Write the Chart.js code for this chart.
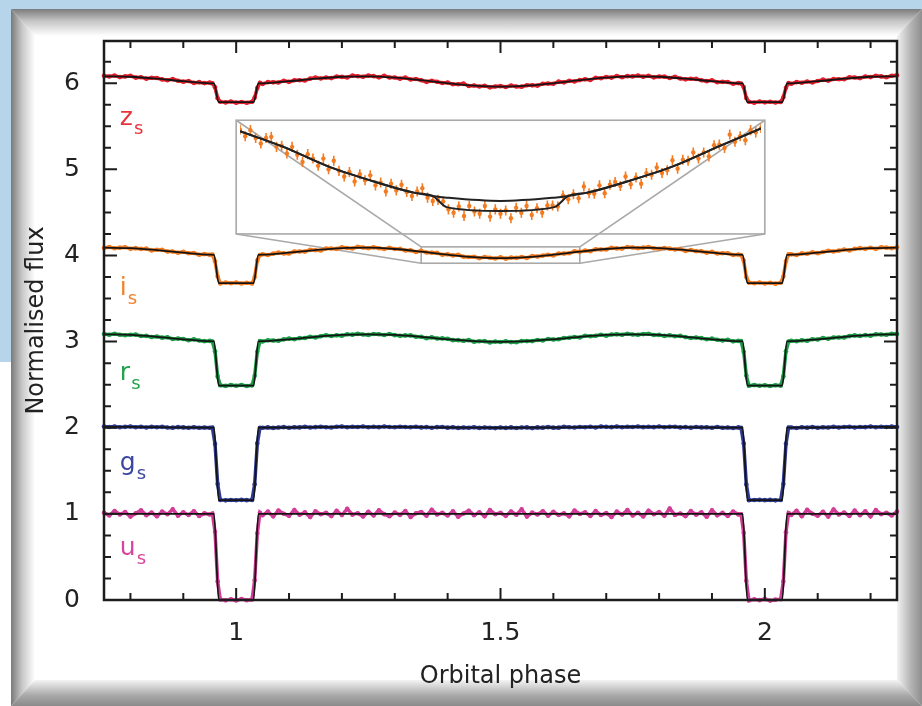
<!DOCTYPE html>
<html>
<head>
<meta charset="utf-8">
<script src="https://cdn.jsdelivr.net/npm/chart.js@4.4.1/dist/chart.umd.min.js"></script>
<style>
  html, body { margin: 0; padding: 0; }
  body { width: 922px; height: 706px; position: relative; overflow: hidden; background: #fff; }
  .abs { position: absolute; }
  #bgTop { left: 0; top: 0; width: 922px; height: 9px; background: #b7d5ea; }
  #bgLeft { left: 0; top: 0; width: 11px; height: 362px; background: #b7d5ea; }
  #frame { left: 11px; top: 9px; width: 911px; height: 697px; background: #fff; }
  #bvTop { left: 0; top: 0; width: 100%; height: 27px;
    background: linear-gradient(to bottom, #7c7c7c, #c6c6c6 45%, #fff);
    clip-path: polygon(0 0, 100% 0, calc(100% - 25px) 100%, 24px 100%); }
  #bvLeft { left: 0; top: 0; width: 24px; height: 100%;
    background: linear-gradient(to right, #7a7a7a, #c6c6c6 45%, #fff);
    clip-path: polygon(0 0, 100% 27px, 100% calc(100% - 26px), 0 100%); }
  #bvRight { right: 0; top: 0; width: 25px; height: 100%;
    background: linear-gradient(to right, #f2f2f2, #b4b4b4 55%, #8e8e8e);
    clip-path: polygon(0 27px, 100% 0, 100% 100%, 0 calc(100% - 26px)); }
  #bvBottom { left: 0; bottom: 0; width: 100%; height: 26px;
    background: linear-gradient(to bottom, #f4f4f4, #a8a8a8 60%, #8a8a8a);
    clip-path: polygon(24px 0, calc(100% - 25px) 0, 100% 100%, 0 100%); }
  #main { left: 0; top: 0; }
</style>
</head>
<body>
<div id="bgTop" class="abs"></div>
<div id="bgLeft" class="abs"></div>
<div id="frame" class="abs">
  <div id="bvTop" class="abs"></div>
  <div id="bvLeft" class="abs"></div>
  <div id="bvRight" class="abs"></div>
  <div id="bvBottom" class="abs"></div>
</div>
<canvas id="main" class="abs" width="922" height="706"></canvas>
<canvas id="inset" class="abs"></canvas>
<script>
'use strict'

// orbital phase of every observed point (same grid for all five bands)
const phase = [
    0.75, 0.76, 0.77, 0.78, 0.79, 0.80, 0.81, 0.82, 0.83, 0.84, 0.85, 0.86, 0.87, 0.88, 0.89, 0.90, 0.91, 0.92, 0.93, 0.94, 0.95,
    0.955, 0.96, 0.965,
    0.97, 0.98, 0.99, 1.00, 1.01, 1.02, 1.03,
    1.035, 1.04, 1.045,
    1.05, 1.06, 1.07, 1.08, 1.09, 1.10, 1.11, 1.12, 1.13, 1.14, 1.15, 1.16, 1.17, 1.18, 1.19, 1.20,
    1.21, 1.22, 1.23, 1.24, 1.25, 1.26, 1.27, 1.28, 1.29, 1.30, 1.31, 1.32, 1.33, 1.34, 1.35, 1.36, 1.37, 1.38, 1.39, 1.40,
    1.41, 1.42, 1.43, 1.44, 1.45, 1.46, 1.47, 1.48, 1.49, 1.50, 1.51, 1.52, 1.53, 1.54, 1.55, 1.56, 1.57, 1.58, 1.59, 1.60,
    1.61, 1.62, 1.63, 1.64, 1.65, 1.66, 1.67, 1.68, 1.69, 1.70, 1.71, 1.72, 1.73, 1.74, 1.75, 1.76, 1.77, 1.78, 1.79, 1.80,
    1.81, 1.82, 1.83, 1.84, 1.85, 1.86, 1.87, 1.88, 1.89, 1.90, 1.91, 1.92, 1.93, 1.94, 1.95,
    1.955, 1.96, 1.965,
    1.97, 1.98, 1.99, 2.00, 2.01, 2.02, 2.03,
    2.035, 2.04, 2.045,
    2.05, 2.06, 2.07, 2.08, 2.09, 2.10, 2.11, 2.12, 2.13, 2.14, 2.15, 2.16, 2.17, 2.18, 2.19, 2.20, 2.21, 2.22, 2.23, 2.24, 2.25
];

const zFlux = [
    6.086, 6.077, 6.089, 6.071, 6.079, 6.086, 6.065, 6.070, 6.053, 6.063, 6.061, 6.044, 6.034, 6.047, 6.029, 6.018, 6.025, 6.004, 6.012, 6.001, 6.009,
    5.998, 5.953, 5.826,
    5.785, 5.777, 5.788, 5.774, 5.782, 5.773, 5.784,
    5.833, 5.945, 6.004,
    5.991, 6.012, 6.010, 6.009, 6.029, 6.016, 6.034, 6.034, 6.031, 6.053, 6.066, 6.055, 6.067, 6.059, 6.078, 6.073,
    6.066, 6.088, 6.081, 6.075, 6.088, 6.082, 6.068, 6.086, 6.066, 6.067, 6.053, 6.065, 6.043, 6.048, 6.034, 6.016, 6.029, 6.017, 6.003, 6.008,
    5.987, 5.987, 5.995, 5.967, 5.974, 5.962, 5.971, 5.952, 5.962, 5.966, 5.956, 5.973, 5.962, 5.960, 5.976, 5.975, 5.972, 5.994, 5.996, 5.993,
    6.018, 6.010, 6.028, 6.020, 6.036, 6.046, 6.037, 6.064, 6.058, 6.071, 6.065, 6.084, 6.070, 6.082, 6.079, 6.089, 6.076, 6.086, 6.068, 6.077,
    6.076, 6.061, 6.073, 6.055, 6.045, 6.051, 6.050, 6.034, 6.024, 6.034, 6.011, 6.016, 6.014, 5.993, 6.001,
    5.996, 5.955, 5.827,
    5.784, 5.774, 5.787, 5.778, 5.785, 5.776, 5.783,
    5.836, 5.948, 6.002,
    5.993, 6.013, 6.005, 6.020, 6.009, 6.025, 6.041, 6.030, 6.049, 6.046, 6.046, 6.069, 6.066, 6.059, 6.077, 6.071, 6.086, 6.079, 6.070, 6.086, 6.093
];

const iFlux = [
    4.087, 4.098, 4.084, 4.091, 4.096, 4.077, 4.085, 4.076, 4.079, 4.058, 4.066, 4.065, 4.046, 4.046, 4.032, 4.043, 4.026, 4.028, 4.009, 4.016, 4.009,
    4.010, 3.933, 3.756,
    3.676, 3.686, 3.678, 3.687, 3.675, 3.683, 3.674,
    3.749, 3.941, 4.006,
    4.014, 4.006, 4.021, 4.033, 4.024, 4.024, 4.045, 4.046, 4.045, 4.065, 4.061, 4.058, 4.080, 4.081, 4.076, 4.094,
    4.086, 4.081, 4.101, 4.093, 4.084, 4.094, 4.084, 4.075, 4.088, 4.075, 4.076, 4.058, 4.061, 4.041, 4.054, 4.034, 4.033, 4.030, 4.008, 4.014,
    4.001, 4.008, 3.985, 3.982, 3.985, 3.968, 3.982, 3.973, 3.965, 3.980, 3.963, 3.975, 3.972, 3.983, 3.971, 3.994, 3.987, 3.998, 4.008, 4.001,
    4.023, 4.022, 4.025, 4.049, 4.042, 4.056, 4.049, 4.071, 4.070, 4.070, 4.088, 4.082, 4.080, 4.099, 4.093, 4.085, 4.091, 4.098, 4.083, 4.077,
    4.086, 4.079, 4.070, 4.075, 4.053, 4.063, 4.050, 4.049, 4.033, 4.042, 4.023, 4.025, 4.026, 4.006, 4.012,
    4.005, 3.940, 3.750,
    3.685, 3.677, 3.686, 3.675, 3.682, 3.673, 3.684,
    3.755, 3.932, 4.013,
    4.013, 4.005, 4.024, 4.020, 4.037, 4.027, 4.041, 4.055, 4.046, 4.056, 4.070, 4.059, 4.076, 4.085, 4.077, 4.090, 4.077, 4.095, 4.091, 4.084, 4.094
];

const rFlux = [
    3.089, 3.080, 3.091, 3.080, 3.074, 3.080, 3.081, 3.065, 3.066, 3.053, 3.060, 3.046, 3.050, 3.030, 3.035, 3.031, 3.016, 3.026, 3.012, 3.005, 3.008,
    3.001, 2.888, 2.596,
    2.493, 2.486, 2.495, 2.488, 2.496, 2.485, 2.492,
    2.604, 2.882, 3.005,
    3.002, 3.015, 3.012, 3.010, 3.026, 3.035, 3.028, 3.040, 3.042, 3.056, 3.049, 3.063, 3.074, 3.065, 3.073, 3.069,
    3.085, 3.081, 3.090, 3.082, 3.078, 3.089, 3.086, 3.077, 3.088, 3.075, 3.067, 3.072, 3.072, 3.056, 3.056, 3.040, 3.049, 3.036, 3.037, 3.033,
    3.017, 3.017, 3.010, 3.017, 2.999, 3.004, 3.005, 2.991, 3.000, 2.996, 3.004, 2.994, 2.992, 3.006, 3.006, 3.006, 3.019, 3.012, 3.031, 3.025,
    3.027, 3.041, 3.044, 3.054, 3.048, 3.068, 3.062, 3.068, 3.079, 3.069, 3.082, 3.086, 3.079, 3.092, 3.083, 3.079, 3.087, 3.091, 3.076, 3.078,
    3.066, 3.074, 3.063, 3.066, 3.052, 3.041, 3.048, 3.040, 3.028, 3.034, 3.021, 3.013, 3.021, 3.003, 3.008,
    3.006, 2.883, 2.605,
    2.487, 2.495, 2.488, 2.494, 2.484, 2.493, 2.489,
    2.597, 2.889, 3.001,
    3.010, 3.005, 3.015, 3.010, 3.028, 3.025, 3.041, 3.033, 3.047, 3.048, 3.049, 3.064, 3.072, 3.066, 3.075, 3.069, 3.085, 3.083, 3.080, 3.091, 3.088
];

const gFlux = [
    2.013, 2.008, 2.014, 2.006, 2.010, 2.014, 2.006, 2.010, 2.003, 2.010, 2.006, 2.010, 2.003, 2.001, 2.007, 2.004, 2.000, 2.006, 2.000, 2.003, 2.000,
    2.002, 1.812, 1.347,
    1.162, 1.157, 1.161, 1.158, 1.163, 1.159, 1.162,
    1.343, 1.818, 2.000,
    1.999, 2.004, 1.998, 2.003, 2.007, 2.000, 2.006, 2.004, 2.010, 2.002, 2.007, 2.010, 2.006, 2.003, 2.011, 2.013,
    2.006, 2.011, 2.009, 2.015, 2.006, 2.012, 2.007, 2.014, 2.008, 2.005, 2.012, 2.008, 2.006, 2.012, 2.004, 2.007, 2.000, 2.007, 2.008, 2.001,
    2.006, 1.998, 2.003, 2.000, 2.006, 1.998, 2.002, 2.000, 1.996, 2.003, 1.998, 2.004, 1.997, 2.002, 2.004, 1.996, 2.004, 2.001, 2.007, 2.001,
    2.001, 2.010, 2.005, 2.002, 2.009, 2.006, 2.011, 2.003, 2.013, 2.010, 2.007, 2.013, 2.006, 2.012, 2.009, 2.014, 2.007, 2.011, 2.007, 2.014,
    2.005, 2.010, 2.011, 2.004, 2.007, 2.001, 2.009, 2.004, 2.006, 2.000, 2.008, 2.000, 2.003, 1.997, 2.004,
    2.000, 1.817, 1.342,
    1.158, 1.161, 1.163, 1.159, 1.162, 1.157, 1.161,
    1.347, 1.813, 2.002,
    2.003, 1.997, 2.005, 2.001, 2.007, 2.000, 2.005, 2.003, 2.010, 2.002, 2.009, 2.010, 2.003, 2.009, 2.007, 2.013, 2.006, 2.012, 2.009, 2.013, 2.008
];

const uFlux = [
    1.012, 0.981, 1.034, 0.993, 1.021, 0.968, 1.008, 1.041, 0.985, 1.015, 0.972, 1.027, 0.996, 1.052, 0.979, 1.018, 0.987, 1.031, 0.975, 1.006, 0.992,
    1.004, 0.792, 0.215,
    0.006, -0.004, 0.009, -0.006, 0.011, -0.003, 0.005,
    0.228, 0.775, 1.013,
    0.984, 1.026, 0.971, 1.038, 1.002, 0.977, 1.045, 0.989, 1.017, 0.963, 1.029, 0.995, 1.011, 0.974, 1.036, 0.986,
    1.058, 0.991, 1.008, 0.969, 1.024, 0.982, 1.041, 0.997, 0.973, 1.016, 0.988, 1.033, 0.965, 1.007, 1.022, 0.978, 1.047, 0.993, 1.012, 0.981,
    1.029, 0.966, 1.004, 1.037, 0.985, 1.019, 0.972, 1.043, 0.996, 1.011, 0.977, 1.028, 0.989, 1.052, 0.968, 1.014, 0.993, 1.031, 0.979, 1.023,
    0.987, 1.006, 0.971, 1.039, 0.998, 1.017, 0.975, 1.034, 0.986, 1.009, 0.964, 1.026, 0.992, 1.044, 0.981, 1.013, 0.969, 1.037, 0.995, 1.021,
    0.978, 1.062, 0.988, 1.005, 0.974, 1.032, 0.991, 1.018, 0.966, 1.041, 0.983, 1.011, 0.976, 1.027, 0.994,
    0.996, 0.781, 0.223,
    -0.005, 0.008, -0.002, 0.010, -0.007, 0.004, 0.009,
    0.214, 0.788, 1.009,
    0.987, 1.035, 0.973, 1.046, 1.001, 0.979, 1.024, 0.968, 1.051, 0.992, 1.016, 0.975, 1.038, 0.984, 1.029, 0.971, 1.043, 0.997, 1.012, 0.982, 1.026
];

// model light curves (black lines)
const modelPhase = [0.75, 0.8, 0.85, 0.9, 0.95, 0.958, 0.967, 1.0, 1.033, 1.042, 1.05, 1.1, 1.15, 1.2, 1.25, 1.3, 1.35, 1.4, 1.45, 1.5,
    1.55, 1.6, 1.65, 1.7, 1.75, 1.8, 1.85, 1.9, 1.95, 1.958, 1.967, 2.0, 2.033, 2.042, 2.05, 2.1, 2.15, 2.2, 2.25];
const zModel = [6.080, 6.075, 6.053, 6.023, 5.999, 5.997, 5.78, 5.78, 5.78, 5.997, 5.999, 6.023, 6.053, 6.075, 6.080, 6.065, 6.035, 5.999, 5.971, 5.960,
    5.971, 5.999, 6.035, 6.065, 6.080, 6.075, 6.053, 6.023, 5.999, 5.997, 5.78, 5.78, 5.78, 5.997, 5.999, 6.023, 6.053, 6.075, 6.080];
const iModel = [4.090, 4.085, 4.063, 4.033, 4.009, 4.007, 3.68, 3.68, 3.68, 4.007, 4.009, 4.033, 4.063, 4.085, 4.090, 4.075, 4.045, 4.009, 3.981, 3.970,
    3.981, 4.009, 4.045, 4.075, 4.090, 4.085, 4.063, 4.033, 4.009, 4.007, 3.68, 3.68, 3.68, 4.007, 4.009, 4.033, 4.063, 4.085, 4.090];
const rModel = [3.085, 3.077, 3.055, 3.027, 3.005, 3.003, 2.49, 2.49, 2.49, 3.003, 3.005, 3.027, 3.055, 3.077, 3.085, 3.077, 3.055, 3.027, 3.005, 2.997,
    3.005, 3.027, 3.055, 3.077, 3.085, 3.077, 3.055, 3.027, 3.005, 3.003, 2.49, 2.49, 2.49, 3.003, 3.005, 3.027, 3.055, 3.077, 3.085];
const gModel = [2.010, 2.009, 2.007, 2.003, 2.001, 2.001, 1.16, 1.16, 1.16, 2.001, 2.001, 2.003, 2.007, 2.009, 2.010, 2.009, 2.007, 2.003, 2.001, 2.000,
    2.001, 2.003, 2.007, 2.009, 2.010, 2.009, 2.007, 2.003, 2.001, 2.001, 1.16, 1.16, 1.16, 2.001, 2.001, 2.003, 2.007, 2.009, 2.010];
const uModel = [1, 1, 1, 1, 1, 1, 0, 0, 0, 1, 1, 1, 1, 1, 1, 1, 1, 1, 1, 1,
    1, 1, 1, 1, 1, 1, 1, 1, 1, 1, 0, 0, 0, 1, 1, 1, 1, 1, 1];

// zoomed i-band around phase 1.5 (inset)
const insetPhase = [
    1.350, 1.353, 1.356, 1.359, 1.362, 1.365, 1.368, 1.371, 1.374, 1.377,
    1.380, 1.383, 1.386, 1.389, 1.392, 1.395, 1.398, 1.401, 1.404, 1.407,
    1.410, 1.413, 1.416, 1.419, 1.422, 1.425, 1.428, 1.431, 1.434, 1.437,
    1.440, 1.443, 1.446, 1.449, 1.452, 1.455, 1.458, 1.461, 1.464, 1.467,
    1.470, 1.473, 1.476, 1.479, 1.482, 1.485, 1.488, 1.491, 1.494, 1.497,
    1.500, 1.503, 1.506, 1.509, 1.512, 1.515, 1.518, 1.521, 1.524, 1.527,
    1.530, 1.533, 1.536, 1.539, 1.542, 1.545, 1.548, 1.551, 1.554, 1.557,
    1.560, 1.563, 1.566, 1.569, 1.572, 1.575, 1.578, 1.581, 1.584, 1.587,
    1.590, 1.593, 1.596, 1.599, 1.602, 1.605, 1.608, 1.611, 1.614, 1.617,
    1.620, 1.623, 1.626, 1.629, 1.632, 1.635, 1.638, 1.641, 1.644, 1.647,
    1.650
];
const insetFlux = [
    4.090, 4.078, 4.089, 4.075, 4.065, 4.075, 4.077, 4.059, 4.061, 4.047,
    4.059, 4.045, 4.032, 4.046, 4.038, 4.025, 4.038, 4.019, 4.034, 4.016,
    4.006, 4.014, 3.997, 4.010, 3.999, 4.008, 3.990, 3.995, 3.979, 3.993,
    3.981, 3.991, 3.978, 3.971, 3.979, 3.985, 3.968, 3.962, 3.964, 3.961,
    3.947, 3.941, 3.952, 3.935, 3.953, 3.943, 3.939, 3.953, 3.934, 3.947,
    3.939, 3.945, 3.931, 3.950, 3.941, 3.953, 3.937, 3.949, 3.941, 3.954,
    3.954, 3.952, 3.972, 3.965, 3.974, 3.967, 3.988, 3.976, 3.975, 3.990,
    3.976, 3.991, 3.996, 3.989, 4.006, 3.992, 4.004, 3.993, 4.012, 4.009,
    4.022, 4.012, 4.017, 4.035, 4.020, 4.036, 4.034, 4.049, 4.038, 4.049,
    4.042, 4.062, 4.063, 4.057, 4.081, 4.068, 4.078, 4.071, 4.089, 4.085,
    4.093
];
const insetErr = 0.009;
const insetModelPhase = [1.35, 1.375, 1.4, 1.425, 1.45, 1.461, 1.469, 1.5, 1.531, 1.539, 1.55, 1.575, 1.6, 1.625, 1.65];
const insetModelNoEclipse = [4.087, 4.059, 4.025, 3.999, 3.977, 3.971, 3.968, 3.962, 3.968, 3.971, 3.977, 3.999, 4.025, 4.059, 4.092];
const insetModelEclipse = [4.087, 4.059, 4.025, 3.999, 3.977, 3.971, 3.951, 3.944, 3.951, 3.971, 3.977, 3.999, 4.025, 4.059, 4.092];

const xTicks = [1, 1.5, 2];
const xTickLabels = ['1', '1.5', '2'];
const yTicks = [0, 1, 2, 3, 4, 5, 6];
const yTickLabels = ['0', '1', '2', '3', '4', '5', '6'];
const bandNames = ['z', 'i', 'r', 'g', 'u'];

// layout (data units of the main axes), kept apart from the values
const labelX = 0.78;
const labelY = [5.52, 3.54, 2.55, 1.51, 0.52];
const insetBox = { x0: 1.0, x1: 2.0, y0: 4.25, y1: 5.57 };
const zoomBox = { x0: 1.35, x1: 1.65, y0: 3.91, y1: 4.10 };

const bandColours = ['#e41e2b', '#f47b20', '#1b9e48', '#2e3a92', '#d23c96'];
const labelColours = ['#e8323c', '#f5812a', '#22a24c', '#3a46a0', '#d8449c'];
const fluxes = [zFlux, iFlux, rFlux, gFlux, uFlux];
const models = [zModel, iModel, rModel, gModel, uModel];
const FONT = "'DejaVu Sans', sans-serif";

Chart.defaults.font.family = FONT;
Chart.defaults.color = '#222';

function points(xs, ys) {
    return xs.map((x, i) => ({ x: x, y: ys[i] }));
}

const datasets = [];
fluxes.forEach((flux, b) => {
    datasets.push({
        label: bandNames[b] + ' model',
        data: points(modelPhase, models[b]),
        borderColor: '#141414',
        borderWidth: 1.8,
        pointRadius: 0,
        cubicInterpolationMode: 'monotone',
        order: 0
    });
    datasets.push({
        label: bandNames[b],
        data: points(phase, flux),
        borderColor: bandColours[b],
        backgroundColor: bandColours[b],
        borderWidth: 3.5,
        pointRadius: 2.3,
        pointBorderWidth: 0,
        clip: 5,
        order: 1
    });
});

const frameTicks = {
    id: 'frameTicks',
    beforeDatasetsDraw(chart) {
        const { ctx, scales: { x, y } } = chart;
        const bx0 = x.getPixelForValue(insetBox.x0), bx1 = x.getPixelForValue(insetBox.x1);
        const by0 = y.getPixelForValue(insetBox.y1), by1 = y.getPixelForValue(insetBox.y0);
        const zx0 = x.getPixelForValue(zoomBox.x0), zx1 = x.getPixelForValue(zoomBox.x1);
        const zy0 = y.getPixelForValue(zoomBox.y1), zy1 = y.getPixelForValue(zoomBox.y0);
        ctx.save();
        ctx.strokeStyle = '#a9a9a9';
        ctx.lineWidth = 1.6;
        ctx.strokeRect(bx0, by0, bx1 - bx0, by1 - by0);
        ctx.strokeRect(zx0, zy0, zx1 - zx0, zy1 - zy0);
        ctx.beginPath();
        ctx.moveTo(bx0, by0); ctx.lineTo(zx0, zy0);
        ctx.moveTo(bx0, by1); ctx.lineTo(zx0, zy1);
        ctx.moveTo(bx1, by0); ctx.lineTo(zx1, zy0);
        ctx.moveTo(bx1, by1); ctx.lineTo(zx1, zy1);
        ctx.stroke();
        ctx.restore();
    },
    afterDatasetsDraw(chart) {
        const { ctx, chartArea: a, scales: { x, y } } = chart;
        ctx.save();
        ctx.strokeStyle = '#1c1c1c';
        ctx.lineWidth = 2;
        ctx.beginPath();
        for (let k = 8; k <= 22; k++) {
            const v = k / 10;
            const len = xTicks.some(t => Math.abs(t - v) < 1e-6) ? 12 : 7;
            const px = x.getPixelForValue(v);
            ctx.moveTo(px, a.bottom); ctx.lineTo(px, a.bottom - len);
            ctx.moveTo(px, a.top); ctx.lineTo(px, a.top + len);
        }
        for (let k = 1; k <= 25; k++) {
            const v = k / 4;
            const len = yTicks.includes(v) ? 13 : 7;
            const py = y.getPixelForValue(v);
            ctx.moveTo(a.left, py); ctx.lineTo(a.left + len, py);
            ctx.moveTo(a.right, py); ctx.lineTo(a.right - len, py);
        }
        ctx.stroke();
        ctx.lineWidth = 2.5;
        ctx.strokeRect(a.left, a.top, a.right - a.left, a.bottom - a.top);

        ctx.textAlign = 'left';
        ctx.textBaseline = 'alphabetic';
        bandNames.forEach((n, b) => {
            const px = x.getPixelForValue(labelX);
            const py = y.getPixelForValue(labelY[b]);
            ctx.fillStyle = labelColours[b];
            ctx.font = '25px ' + FONT;
            ctx.fillText(n, px, py);
            const w = ctx.measureText(n).width;
            ctx.font = '18px ' + FONT;
            ctx.fillText('s', px + w + 1, py + 9);
        });
        ctx.restore();
    }
};

const mainChart = new Chart(document.getElementById('main'), {
    type: 'line',
    data: { datasets: datasets },
    options: {
        responsive: false,
        animation: false,
        layout: { padding: { left: 0, top: 41, right: 25, bottom: 0 } },
        plugins: { legend: { display: false }, tooltip: { enabled: false } },
        scales: {
            x: {
                type: 'linear',
                min: 0.75,
                max: 2.25,
                grid: { display: false },
                border: { display: false },
                afterBuildTicks: s => { s.ticks = xTicks.map(v => ({ value: v })); },
                afterFit: s => { s.height = 106; },
                ticks: {
                    padding: 10,
                    maxRotation: 0,
                    font: { size: 25 },
                    color: '#222',
                    callback: (v, i) => xTickLabels[i]
                },
                title: {
                    display: true,
                    text: 'Orbital phase',
                    font: { size: 24 },
                    color: '#222',
                    padding: { top: 0, bottom: 15 }
                }
            },
            y: {
                type: 'linear',
                min: 0,
                max: 6.49,
                grid: { display: false },
                border: { display: false },
                afterBuildTicks: s => { s.ticks = yTicks.map(v => ({ value: v })); },
                afterFit: s => { s.width = 104; },
                ticks: {
                    padding: 16,
                    font: { size: 25 },
                    color: '#222',
                    callback: (v, i) => yTickLabels[i]
                },
                title: {
                    display: true,
                    text: 'Normalised flux',
                    font: { size: 24 },
                    color: '#222',
                    padding: { top: 22, bottom: 0 }
                }
            }
        }
    },
    plugins: [frameTicks]
});

// inset: its own small chart laid over the box drawn on the main chart
const xs = mainChart.scales.x;
const ys = mainChart.scales.y;
const boxLeft = xs.getPixelForValue(insetBox.x0);
const boxRight = xs.getPixelForValue(insetBox.x1);
const boxTop = ys.getPixelForValue(insetBox.y1);
const boxBottom = ys.getPixelForValue(insetBox.y0);
const insetCanvas = document.getElementById('inset');
insetCanvas.width = Math.round(boxRight - boxLeft);
insetCanvas.height = Math.round(boxBottom - boxTop);
insetCanvas.style.left = Math.round(boxLeft) + 'px';
insetCanvas.style.top = Math.round(boxTop) + 'px';

const errorBars = {
    id: 'errorBars',
    beforeDatasetsDraw(chart) {
        const { ctx, chartArea: a, scales: { x, y } } = chart;
        ctx.save();
        ctx.beginPath();
        ctx.rect(a.left, a.top, a.right - a.left, a.bottom - a.top);
        ctx.clip();
        ctx.strokeStyle = bandColours[1];
        ctx.lineWidth = 1.6;
        ctx.beginPath();
        insetPhase.forEach((p, i) => {
            const px = x.getPixelForValue(p);
            ctx.moveTo(px, y.getPixelForValue(insetFlux[i] - insetErr));
            ctx.lineTo(px, y.getPixelForValue(insetFlux[i] + insetErr));
        });
        ctx.stroke();
        ctx.restore();
    }
};

new Chart(insetCanvas, {
    type: 'line',
    data: {
        datasets: [
            {
                data: points(insetModelPhase, insetModelNoEclipse),
                borderColor: '#222',
                borderWidth: 2,
                pointRadius: 0,
                cubicInterpolationMode: 'monotone',
                order: 0
            },
            {
                data: points(insetModelPhase, insetModelEclipse),
                borderColor: '#222',
                borderWidth: 2,
                pointRadius: 0,
                cubicInterpolationMode: 'monotone',
                order: 0
            },
            {
                data: points(insetPhase, insetFlux),
                showLine: false,
                pointRadius: 2.2,
                pointBorderWidth: 0,
                backgroundColor: bandColours[1],
                order: 1
            }
        ]
    },
    options: {
        responsive: false,
        animation: false,
        layout: { padding: 0 },
        plugins: { legend: { display: false }, tooltip: { enabled: false } },
        scales: {
            x: { type: 'linear', min: zoomBox.x0, max: zoomBox.x1, display: false },
            y: { type: 'linear', min: zoomBox.y0, max: zoomBox.y1, display: false }
        }
    },
    plugins: [errorBars]
});
</script>
</body>
</html>
